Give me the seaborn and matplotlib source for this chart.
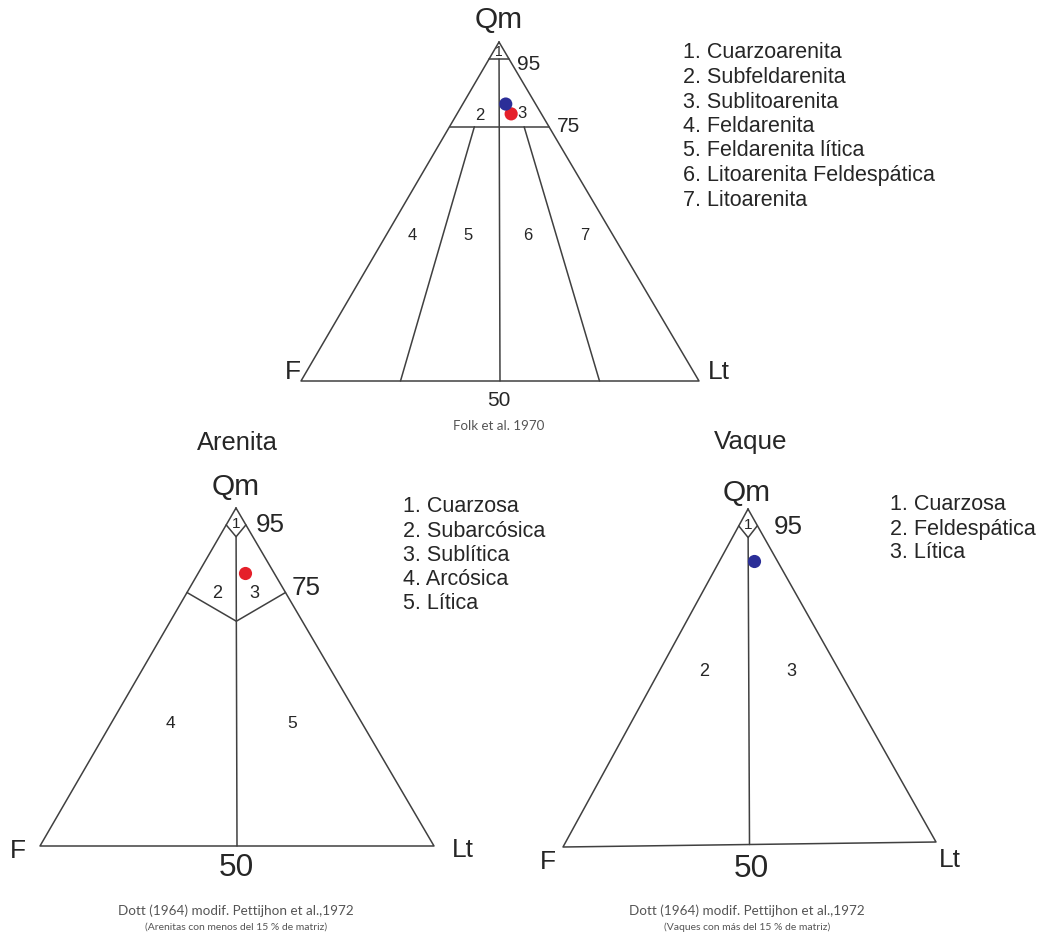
import numpy as np
import pandas as pd
import matplotlib
matplotlib.use("Agg")
import matplotlib.pyplot as plt
import seaborn as sns

# ---- sample compositions (percent Qm, F, Lt) plotted on each diagram ----
folk_qm = [78.8, 81.7]
folk_f = [7.6, 7.5]
folk_lt = [13.6, 10.8]
folk_sample = ["red", "blue"]

arenita_qm = [80.8]
arenita_f = [7.3]
arenita_lt = [11.9]
arenita_sample = ["red"]

vaque_qm = [84.5]
vaque_f = [6.2]
vaque_lt = [9.3]
vaque_sample = ["blue"]

# ---- classification boundaries ----
folk_qm_limits = [95, 75]            # horizontal Qm limits
folk_f_ratios = [0.75, 0.5, 0.25]    # F/(F+Lt) dividing lines
dott_side_qm = [95, 75]              # chevron ends on the sides
dott_mid_qm = [91.5, 66.5]           # chevron vertex on the central line
vaque_side_qm = [95]
vaque_mid_qm = [91.5]

folk_classes = ["1. Cuarzoarenita", "2. Subfeldarenita", "3. Sublitoarenita",
                "4. Feldarenita", "5. Feldarenita lítica",
                "6. Litoarenita Feldespática", "7. Litoarenita"]
arenita_classes = ["1. Cuarzosa", "2. Subarcósica", "3. Sublítica",
                   "4. Arcósica", "5. Lítica"]
vaque_classes = ["1. Cuarzosa", "2. Feldespática", "3. Lítica"]

palette = {"red": "#e5202a", "blue": "#2b2e98"}

sns.set_style("white")
plt.rcParams["font.family"] = ["Liberation Sans", "DejaVu Sans"]

W, H = 1043, 933
fig = plt.figure(figsize=(W / 100, H / 100), dpi=100)
ax = fig.add_axes([0, 0, 1, 1])
ax.set_xlim(0, W)
ax.set_ylim(H, 0)
ax.axis("off")

# vertex positions of the three triangles (canvas units)
FOLK = {"Qm": (499, 42), "F": (301, 381), "Lt": (699, 381)}
ARENITA = {"Qm": (236, 508), "F": (40, 846), "Lt": (434, 846)}
VAQUE = {"Qm": (748, 509), "F": (563, 847), "Lt": (936, 842)}

LINE = dict(color="#404040", lw=1.1, solid_capstyle="round")
TXT = "#262626"
CAP = "#555555"


def tern(tri, qm, f, lt):
    qm, f, lt = (np.asarray(v, dtype=float) for v in (qm, f, lt))
    s = qm + f + lt
    x = (qm * tri["Qm"][0] + f * tri["F"][0] + lt * tri["Lt"][0]) / s
    y = (qm * tri["Qm"][1] + f * tri["F"][1] + lt * tri["Lt"][1]) / s
    return x, y


def path(tri, pts):
    qm, f, lt = zip(*pts)
    x, y = tern(tri, qm, f, lt)
    ax.plot(x, y, **LINE)


def outline(tri):
    path(tri, [(100, 0, 0), (0, 100, 0), (0, 0, 100), (100, 0, 0)])


def samples(tri, qm, f, lt, kind):
    x, y = tern(tri, qm, f, lt)
    df = pd.DataFrame({"x": x, "y": y, "muestra": kind})
    sns.scatterplot(data=df, x="x", y="y", hue="muestra", palette=palette,
                    s=90, linewidth=0, legend=False, ax=ax, zorder=5)


def label(x, y, s, size, color=TXT, family=None, ha="center"):
    kw = {}
    if family:
        kw["family"] = family
    ax.text(x, y, s, fontsize=size, color=color, ha=ha, va="center", **kw)


# ---------------- Folk et al. 1970 ----------------
outline(FOLK)
for q in folk_qm_limits:
    path(FOLK, [(q, 100 - q, 0), (q, 0, 100 - q)])
for r in folk_f_ratios:
    top = folk_qm_limits[0] if r == 0.5 else folk_qm_limits[1]
    path(FOLK, [(top, (100 - top) * r, (100 - top) * (1 - r)),
                (0, 100 * r, 100 * (1 - r))])
samples(FOLK, folk_qm, folk_f, folk_lt, folk_sample)

label(499, 20, "Qm", 21.5)
label(499, 52, "1", 10)
label(529, 64, "95", 15)
label(480, 115, "2", 12)
label(522, 114, "3", 12)
label(568, 127, "75", 15)
for xx, t in zip([412, 468, 528, 585], ["4", "5", "6", "7"]):
    label(xx, 236, t, 12)
label(293, 372, "F", 19)
label(719, 372, "Lt", 19)
label(499, 401, "50", 15)
label(499, 426, "Folk et al. 1970", 9.6, CAP, "Lato")
for i, t in enumerate(folk_classes):
    label(683, 53 + 24.5 * i, t, 15.5, ha="left")

# ---------------- Dott (1964): Arenita ----------------
outline(ARENITA)
for s, m in zip(dott_side_qm, dott_mid_qm):
    path(ARENITA, [(s, 100 - s, 0), (m, (100 - m) / 2, (100 - m) / 2),
                   (s, 0, 100 - s)])
path(ARENITA, [(dott_mid_qm[0], (100 - dott_mid_qm[0]) / 2,
                (100 - dott_mid_qm[0]) / 2), (0, 50, 50)])
samples(ARENITA, arenita_qm, arenita_f, arenita_lt, arenita_sample)

label(237, 443, "Arenita", 18.4)
label(236, 487, "Qm", 21.5)
label(236, 524, "1", 11)
label(270, 525, "95", 18.7)
label(306, 588, "75", 18.7)
label(217, 593, "2", 13)
label(254, 593, "3", 13)
label(170, 724, "4", 12.5)
label(292, 724, "5", 12.5)
label(18, 851, "F", 19)
label(463, 850, "Lt", 19)
label(236, 868, "50", 22.7)
label(236, 911, "Dott (1964) modif. Pettijhon et al.,1972", 9.7, CAP, "Lato")
label(236, 927, "(Arenitas con menos del 15 % de matriz)", 7.5, CAP, "Lato")
for i, t in enumerate(arenita_classes):
    label(403, 507 + 24.2 * i, t, 15.5, ha="left")

# ---------------- Dott (1964): Vaque ----------------
outline(VAQUE)
for s, m in zip(vaque_side_qm, vaque_mid_qm):
    path(VAQUE, [(s, 100 - s, 0), (m, (100 - m) / 2, (100 - m) / 2),
                 (s, 0, 100 - s)])
path(VAQUE, [(vaque_mid_qm[0], (100 - vaque_mid_qm[0]) / 2,
              (100 - vaque_mid_qm[0]) / 2), (0, 50, 50)])
samples(VAQUE, vaque_qm, vaque_f, vaque_lt, vaque_sample)

label(751, 442, "Vaque", 18.7)
label(747, 493, "Qm", 21.5)
label(748, 525, "1", 11)
label(788, 527, "95", 18.7)
label(704, 671, "2", 13)
label(791, 671, "3", 13)
label(548, 862, "F", 19)
label(950, 860, "Lt", 19)
label(751, 869, "50", 22.7)
label(747, 911, "Dott (1964) modif. Pettijhon et al.,1972", 9.7, CAP, "Lato")
label(747, 927, "(Vaques con más del 15 % de matriz)", 7.5, CAP, "Lato")
for i, t in enumerate(vaque_classes):
    label(890, 505 + 24 * i, t, 15.5, ha="left")

fig.savefig("out.png", dpi=100, facecolor="white")
